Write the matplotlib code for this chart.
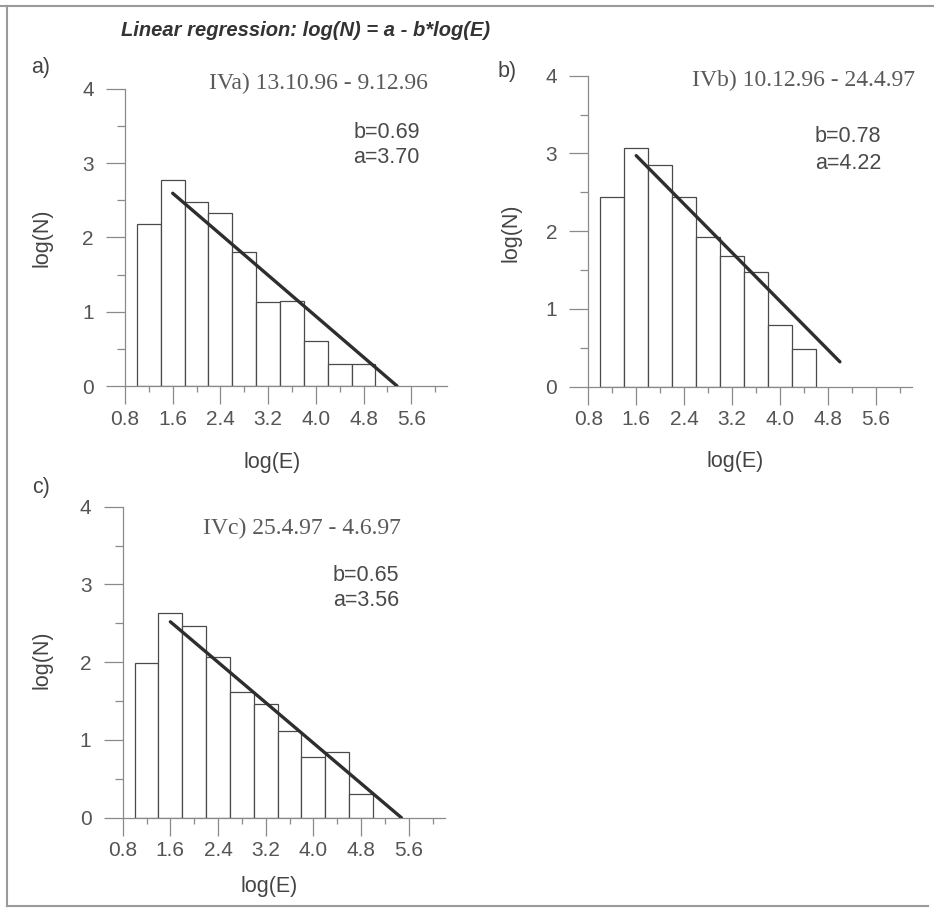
import matplotlib
matplotlib.use("Agg")
import matplotlib.pyplot as plt
from matplotlib.ticker import MultipleLocator, FormatStrFormatter
from matplotlib.lines import Line2D

plt.rcParams['font.family'] = ['Liberation Sans', 'DejaVu Sans']

# energy classes: left edges of log(E) bins, 0.4 wide
BIN_W = 0.4
edges_a = [1.0, 1.4, 1.8, 2.2, 2.6, 3.0, 3.4, 3.8, 4.2, 4.6]
edges_b = [1.0, 1.4, 1.8, 2.2, 2.6, 3.0, 3.4, 3.8, 4.2]
edges_c = [1.0, 1.4, 1.8, 2.2, 2.6, 3.0, 3.4, 3.8, 4.2, 4.6]

# log10 of event counts per class
logn_a = [2.18, 2.77, 2.48, 2.33, 1.80, 1.13, 1.14, 0.61, 0.30, 0.30]
logn_b = [2.44, 3.07, 2.85, 2.44, 1.93, 1.68, 1.48, 0.79, 0.48]
logn_c = [1.99, 2.63, 2.47, 2.07, 1.62, 1.46, 1.12, 0.78, 0.84, 0.30]

# regression coefficients log(N) = a - b*log(E)
coef_a = [3.70, 4.22, 3.56]
coef_b = [0.69, 0.78, 0.65]
fit_start = [1.6, 1.6, 1.6]
fit_end = [3.70 / 0.69, 5.0, 3.56 / 0.65]

periods = ['IVa) 13.10.96 - 9.12.96', 'IVb) 10.12.96 - 24.4.97', 'IVc) 25.4.97 - 4.6.97']
panel_tags = ['a)', 'b)', 'c)']

W, H = 934, 909
fig = plt.figure(figsize=(W / 100, H / 100), dpi=100)
fig.patch.set_facecolor('white')


def px_axes(left, right, top, bottom):
    return fig.add_axes([left / W, 1 - bottom / H, (right - left) / W, (bottom - top) / H])


axes = [
    px_axes(125.0, 447.0, 89.0, 386.0),
    px_axes(588.3, 911.8, 75.7, 386.7),
    px_axes(122.7, 444.5, 506.7, 817.7),
]

# where the period / coefficient texts sit (data coords)
period_pos = [(2.21, 4.08), (2.53, 3.94), (2.14, 3.72)]
coef_pos = [(4.63, 3.42, 3.08), (4.58, 3.215, 2.87), (4.33, 3.12, 2.79)]
xlabel_pos = [(0.457, -0.222), (0.453, -0.207), (0.455, -0.187)]
ylabel_pos = [(-0.224, 0.498), (-0.205, 0.494), (-0.217, 0.507)]

data = [(edges_a, logn_a), (edges_b, logn_b), (edges_c, logn_c)]

for i, ax in enumerate(axes):
    edges, logn = data[i]
    ax.bar(edges, logn, width=BIN_W, align='edge', facecolor='white',
           edgecolor='#4a4a4a', linewidth=0.9, zorder=2)

    a, b = coef_a[i], coef_b[i]
    x0, x1 = fit_start[i], fit_end[i]
    ax.plot([x0, x1], [a - b * x0, a - b * x1], color='#2e2e2e', lw=2.4,
            solid_capstyle='round', zorder=3)

    ax.set_xlim(0.8, 6.2)
    ax.set_ylim(0, 4)
    ax.spines['top'].set_visible(False)
    ax.spines['right'].set_visible(False)
    for s in ('left', 'bottom'):
        ax.spines[s].set_color('#8a8a8a')
        ax.spines[s].set_linewidth(0.9)
    ax.patch.set_alpha(0)

    ax.xaxis.set_major_locator(MultipleLocator(0.8))
    ax.xaxis.set_minor_locator(MultipleLocator(0.4))
    ax.xaxis.set_major_formatter(FormatStrFormatter('%.1f'))
    ax.yaxis.set_major_locator(MultipleLocator(1))
    ax.yaxis.set_minor_locator(MultipleLocator(0.5))
    ax.yaxis.set_major_formatter(FormatStrFormatter('%d'))

    ax.tick_params(axis='both', which='both', direction='out', color='#8a8a8a',
                   width=0.9, labelcolor='#555555', labelsize=15)
    ax.tick_params(axis='x', which='major', length=13, pad=4)
    ax.tick_params(axis='x', which='minor', length=4.5)
    ax.tick_params(axis='y', which='major', length=13.5, pad=9)
    ax.tick_params(axis='y', which='minor', length=6)

    ax.set_xlabel('log(E)', fontsize=15.5, color='#444444')
    ax.set_ylabel('log(N)', fontsize=15.5, color='#444444')
    ax.xaxis.set_label_coords(*xlabel_pos[i])
    ax.yaxis.set_label_coords(*ylabel_pos[i])

    px, py = period_pos[i]
    ax.text(px, py, periods[i], family=['Liberation Serif', 'DejaVu Serif'],
            fontsize=17, color='#5a5a5a', ha='left', va='center')
    cx, cy_b, cy_a = coef_pos[i]
    ax.text(cx, cy_b, f'b={b:.2f}', fontsize=15.5, color='#4a4a4a', ha='left', va='center')
    ax.text(cx, cy_a, f'a={a:.2f}', fontsize=15.5, color='#4a4a4a', ha='left', va='center')

# panel letters
fig.text(31 / W, 1 - 68 / H, panel_tags[0], fontsize=15.5, color='#444444', va='center')
fig.text(498 / W, 1 - 72 / H, panel_tags[1], fontsize=15.5, color='#444444', va='center')
fig.text(32 / W, 1 - 488 / H, panel_tags[2], fontsize=15.5, color='#444444', va='center')

fig.text(121 / W, 1 - 30 / H, 'Linear regression: log(N) = a - b*log(E)',
         fontsize=14.5, fontweight='bold', fontstyle='italic', color='#333333',
         ha='left', va='center')

# thin frame around the figure
frame_kw = dict(color='#9a9a9a', lw=1.5, transform=fig.transFigure)
fig.add_artist(Line2D([0, 1], [1 - 6 / H, 1 - 6 / H], **frame_kw))
fig.add_artist(Line2D([7 / W, 7 / W], [1 - 6 / H, 1 - 906 / H], **frame_kw))
fig.add_artist(Line2D([7 / W, 928 / W], [1 - 906 / H, 1 - 906 / H], **frame_kw))

fig.savefig('out.png', dpi=100)
